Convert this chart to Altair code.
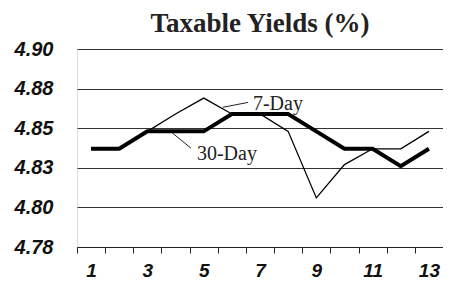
import altair as alt
import pandas as pd

days = list(range(1, 14))
seven_day = [4.837, 4.837, 4.848, 4.859, 4.869, 4.859, 4.859, 4.848, 4.806, 4.827, 4.837, 4.837, 4.848]
thirty_day = [4.837, 4.837, 4.848, 4.848, 4.848, 4.859, 4.859, 4.859, 4.848, 4.837, 4.837, 4.826, 4.837]
y_ticks = [4.775, 4.80, 4.825, 4.85, 4.875, 4.90]
x_ticks = [i / 2 for i in range(1, 28)]

# annotation: label, leader start (x, y), leader end (x2, y2), text anchor (tx, ty)
ann_labels = ["7-Day", "30-Day"]
ann_x = [5.68, 3.86]
ann_y = [4.8632, 4.8474]
ann_x2 = [6.58, 4.54]
ann_y2 = [4.8663, 4.8375]
ann_tx = [6.75, 4.76]
ann_ty = [4.8615, 4.8299]

df = pd.DataFrame({"day": days, "seven": seven_day, "thirty": thirty_day})
ann = pd.DataFrame({"label": ann_labels, "x": ann_x, "y": ann_y, "x2": ann_x2, "y2": ann_y2,
                    "tx": ann_tx, "ty": ann_ty})

xscale = alt.Scale(domain=[0.5, 13.5], nice=False, zero=False)
yscale = alt.Scale(domain=[4.775, 4.90], nice=False, zero=False)

xaxis = alt.Axis(
    values=x_ticks, tickCount=100, grid=False, title=None,
    labelExpr="datum.value % 2 == 1 ? format(datum.value, 'd') : ''",
    tickOpacity=alt.ExprRef("datum.value % 1 == 0 ? 0 : 1"),
    tickSize=6, tickColor="#222", domainColor="#222", labelOverlap=False, labelFlush=False,
    labelFont="Liberation Sans", labelFontSize=19, labelFontWeight="bold", labelFontStyle="italic",
    labelColor="#111", labelPadding=8, labelBaseline="top",
)
yaxis = alt.Axis(
    values=y_ticks, tickCount=100, grid=True, gridColor="#333", gridWidth=1, domain=False,
    ticks=False, tickSize=0,
    title=None, labelExpr="format(datum.value + 0.0001, '.2f')", labelOverlap=False, labelFlush=False,
    labelFont="Liberation Sans", labelFontSize=20, labelFontWeight="bold", labelFontStyle="italic",
    labelColor="#111", labelPadding=24,
)

base = alt.Chart(df)
thick = base.mark_line(color="black", strokeWidth=4).encode(
    x=alt.X("day:Q", scale=xscale, axis=xaxis),
    y=alt.Y("thirty:Q", scale=yscale, axis=yaxis),
)
thin = base.mark_line(color="black", strokeWidth=1.3).encode(
    x=alt.X("day:Q", scale=xscale),
    y=alt.Y("seven:Q", scale=yscale),
)
leaders = alt.Chart(ann).mark_rule(color="#222", strokeWidth=1).encode(
    x=alt.X("x:Q", scale=xscale), y=alt.Y("y:Q", scale=yscale),
    x2="x2:Q", y2="y2:Q",
)
texts = alt.Chart(ann).mark_text(
    align="left", baseline="alphabetic", font="Liberation Serif", fontSize=20, color="#222"
).encode(
    x=alt.X("tx:Q", scale=xscale), y=alt.Y("ty:Q", scale=yscale), text="label:N",
)

chart = alt.layer(thick, thin, leaders, texts).properties(
    width=366, height=198,
    title=alt.Title("Taxable Yields (%)", font="Liberation Serif", fontSize=27, fontWeight="bold",
                    color="#222", anchor="middle", frame="group", offset=1),
    autosize=alt.AutoSizeParams(type="none"),
    padding={"left": 69, "top": 41, "right": 0, "bottom": 32},
).configure_view(stroke=None).configure(background="white")

chart.save("out.html", embed_options={"renderer": "svg", "actions": False})
